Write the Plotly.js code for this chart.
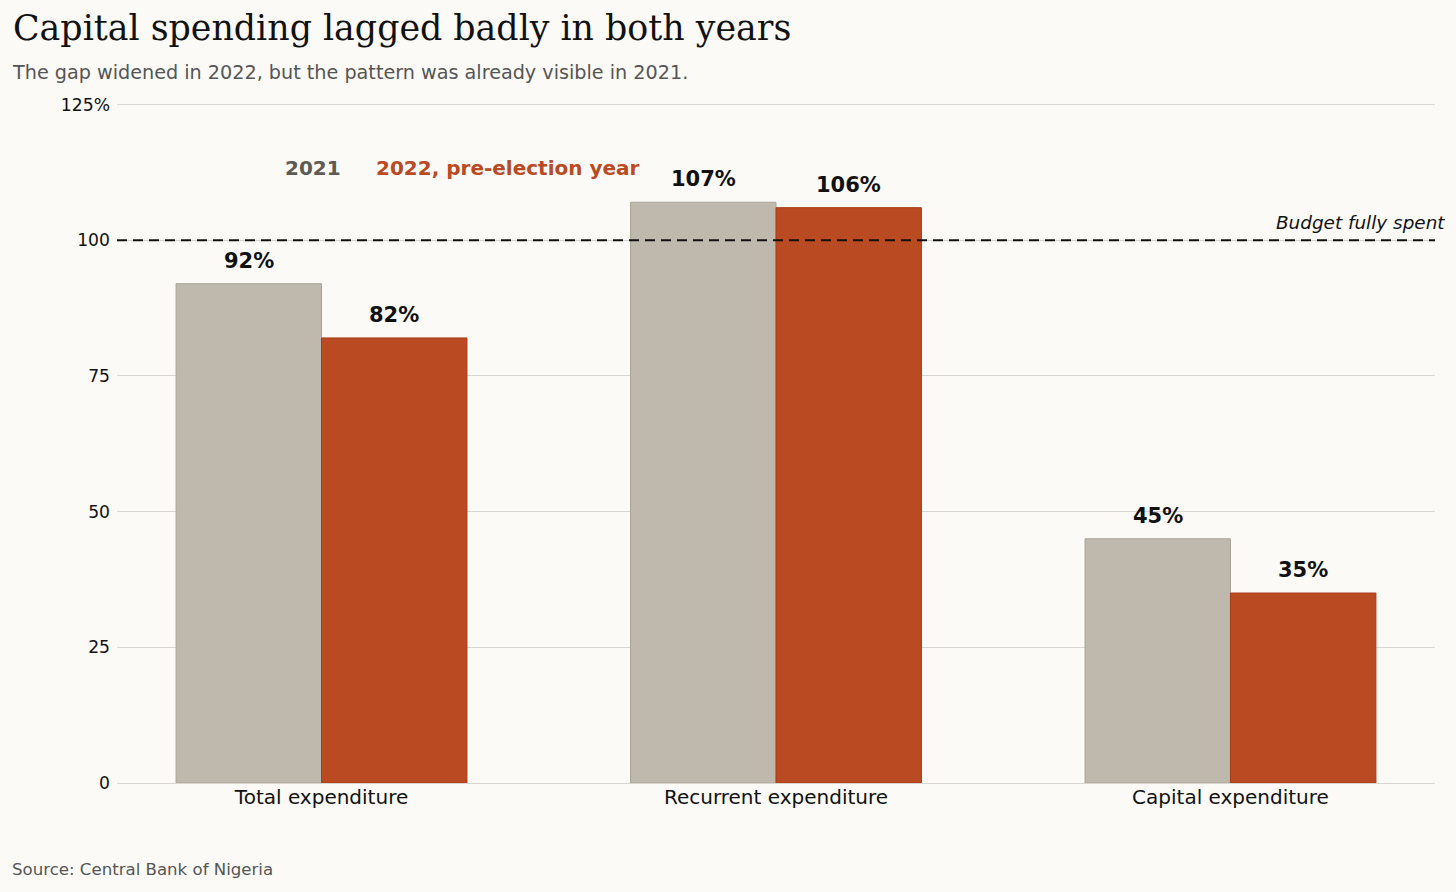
<!DOCTYPE html>
<html>
<head>
<meta charset="utf-8">
<script src="https://cdn.plot.ly/plotly-3.0.1.min.js"></script>
<style>
  html, body { margin: 0; padding: 0; background: #fbfaf7; }
  #chart { width: 1456px; height: 892px; }
</style>
</head>
<body>
<div id="chart"></div>
<script>
var categories = ['Total expenditure', 'Recurrent expenditure', 'Capital expenditure'];
var values2021 = [92, 107, 45];
var values2022 = [82, 106, 35];
var seriesNames = ['2021', '2022, pre-election year'];
var yTickVals = [0, 25, 50, 75, 100, 125];
var yTickText = ['0', '25', '50', '75', '100', '125%'];
var budgetLine = 100;

var GREY = '#bfb8ad';
var ORANGE = '#b94a22';
var SANS = 'DejaVu Sans, Verdana, sans-serif';
var GRID = '#d9d6cf';

var traces = [
  {
    type: 'bar',
    x: categories,
    y: values2021,
    name: seriesNames[0],
    marker: { color: GREY, line: { color: '#aaa498', width: 1 } },
    hoverinfo: 'skip'
  },
  {
    type: 'bar',
    x: categories,
    y: values2022,
    name: seriesNames[1],
    marker: { color: ORANGE, line: { color: '#a83d18', width: 1 } },
    hoverinfo: 'skip'
  }
];

// value labels above each bar (half a bar width either side of the category)
var annotations = [];
var half = 0.16;
values2021.forEach(function (v, i) {
  annotations.push({
    x: i - half, y: v, xref: 'x', yref: 'y',
    text: '<b>' + v + '%</b>', showarrow: false,
    yanchor: 'bottom', yshift: 9,
    font: { family: SANS, size: 21, color: '#111' }
  });
});
values2022.forEach(function (v, i) {
  annotations.push({
    x: i + half, y: v, xref: 'x', yref: 'y',
    text: '<b>' + v + '%</b>', showarrow: false,
    yanchor: 'bottom', yshift: 9,
    font: { family: SANS, size: 21, color: '#111' }
  });
});

// legend as coloured text
annotations.push({
  x: 0.149, y: 0.906, xref: 'paper', yref: 'paper',
  text: '<b>' + seriesNames[0] + '</b>', showarrow: false,
  xanchor: 'center', yanchor: 'middle',
  font: { family: SANS, size: 20, color: '#5f5a52' }
});
annotations.push({
  x: 0.195, y: 0.906, xref: 'paper', yref: 'paper',
  text: '<b>' + seriesNames[1] + '</b>', showarrow: false,
  xanchor: 'left', yanchor: 'middle',
  font: { family: SANS, size: 20, color: ORANGE }
});

// reference line label
annotations.push({
  x: 1.0088, y: budgetLine, xref: 'paper', yref: 'y',
  text: '<i>Budget fully spent</i>', showarrow: false,
  xanchor: 'right', yanchor: 'bottom', yshift: 5,
  font: { family: SANS, size: 18.4, color: '#111' }
});

// subtitle and source
annotations.push({
  x: -0.0812, y: 1.047, xref: 'paper', yref: 'paper',
  text: 'The gap widened in 2022, but the pattern was already visible in 2021.',
  showarrow: false, xanchor: 'left', yanchor: 'middle',
  font: { family: SANS, size: 19.2, color: '#555' }
});
annotations.push({
  x: -0.0812, y: -0.128, xref: 'paper', yref: 'paper',
  text: 'Source: Central Bank of Nigeria',
  showarrow: false, xanchor: 'left', yanchor: 'middle',
  font: { family: SANS, size: 16.6, color: '#555' }
});

var topTick = yTickVals[yTickVals.length - 1];

var layout = {
  width: 1456,
  height: 892,
  margin: { l: 117, r: 21, t: 104, b: 109, pad: 0 },
  paper_bgcolor: '#fbfaf7',
  plot_bgcolor: '#fbfaf7',
  showlegend: false,
  barmode: 'group',
  bargap: 0.36,
  bargroupgap: 0,
  font: { family: SANS, color: '#111' },
  title: {
    text: 'Capital spending lagged badly in both years',
    xref: 'container', yref: 'container',
    x: 13 / 1456, y: 1 - 28 / 892,
    xanchor: 'left', yanchor: 'middle',
    font: { family: 'DejaVu Serif, serif', size: 34.8, color: '#111' }
  },
  xaxis: {
    type: 'category',
    range: [-0.45, 2.45],
    showgrid: false,
    showline: false,
    zeroline: false,
    ticks: '',
    tickfont: { family: SANS, size: 20, color: '#111' }
  },
  yaxis: {
    range: [0, 125.1],
    tickvals: yTickVals,
    ticktext: yTickText,
    showgrid: true,
    gridcolor: GRID,
    gridwidth: 1,
    zeroline: true,
    zerolinecolor: GRID,
    zerolinewidth: 1,
    showline: false,
    ticks: '',
    ticklabelstandoff: 6,
    tickfont: { family: SANS, size: 17.2, color: '#111' }
  },
  shapes: [
    {
      // top gridline, which plotly drops at the range edge
      type: 'line', xref: 'paper', yref: 'y',
      x0: 0, x1: 1, y0: topTick, y1: topTick,
      line: { color: GRID, width: 1 },
      layer: 'below'
    },
    {
      type: 'line', xref: 'paper', yref: 'y',
      x0: 0, x1: 1, y0: budgetLine, y1: budgetLine,
      line: { color: '#111', width: 2, dash: '10px,6px' },
      layer: 'above'
    }
  ],
  annotations: annotations
};

var config = { displayModeBar: false, responsive: false };

Plotly.newPlot('chart', traces, layout, config);
</script>
</body>
</html>
